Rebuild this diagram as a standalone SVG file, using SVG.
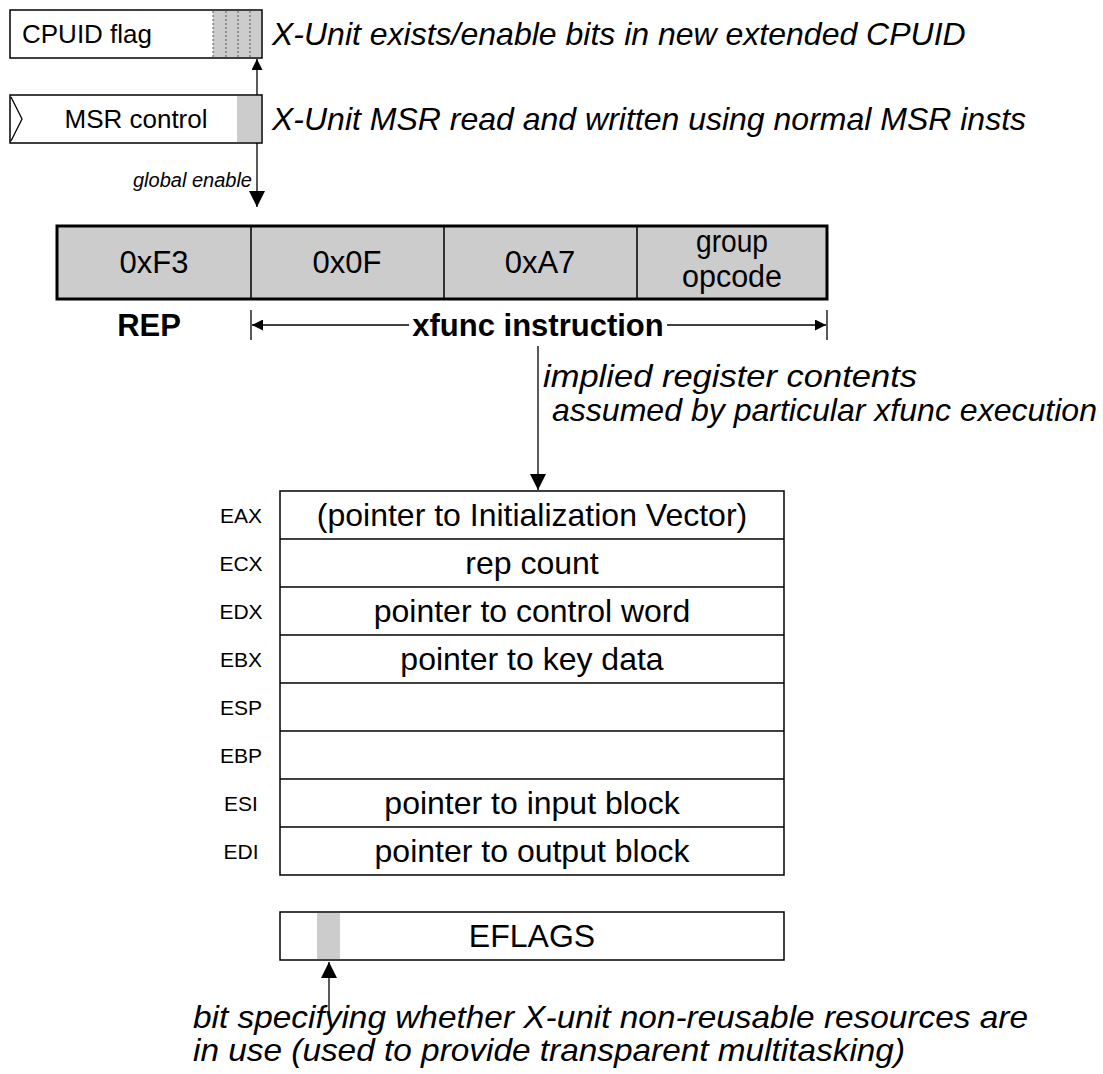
<svg xmlns="http://www.w3.org/2000/svg" width="1103" height="1074" viewBox="0 0 1103 1074">
  <style>
    text { font-family: "Liberation Sans", Arial, sans-serif; fill: #000; }
    .box { fill: #fff; stroke: #000; stroke-width: 1.5; }
    .shade { fill: #cccccc; stroke: none; }
    .op { fill: #cccccc; stroke: #000; stroke-width: 3; }
    .div { stroke: #000; stroke-width: 1.5; }
    .line { stroke: #000; stroke-width: 1.3; fill: none; }
    .note { font-style: italic; font-size: 32px; }
    .reg { font-size: 21px; text-anchor: middle; }
    .cell { font-size: 32px; text-anchor: middle; }
    .hex { font-size: 31px; text-anchor: middle; }
  </style>
  <defs>
    <marker id="arr" viewBox="0 0 10 10" refX="10" refY="5" markerWidth="11" markerHeight="11" markerUnits="userSpaceOnUse" orient="auto">
      <path d="M0,0 L10,5 L0,10 z" fill="#000"/>
    </marker>
    <marker id="arrBig" viewBox="0 0 10 10" refX="10" refY="5" markerWidth="16" markerHeight="16" markerUnits="userSpaceOnUse" orient="auto">
      <path d="M0,0 L10,5 L0,10 z" fill="#000"/>
    </marker>
  </defs>

  <!-- CPUID flag register -->
  <g id="cpuid">
    <rect class="box" x="10" y="10" width="252" height="48"/>
    <rect class="shade" x="213" y="11" width="48" height="46"/>
    <line x1="213" y1="11" x2="213" y2="57" stroke="#555" stroke-width="1" stroke-dasharray="2,2"/>
    <line x1="226" y1="11" x2="226" y2="57" stroke="#555" stroke-width="1" stroke-dasharray="2,2"/>
    <line x1="238" y1="11" x2="238" y2="57" stroke="#555" stroke-width="1" stroke-dasharray="2,2"/>
    <line x1="250" y1="11" x2="250" y2="57" stroke="#555" stroke-width="1" stroke-dasharray="2,2"/>
    <text x="22" y="43" font-size="26">CPUID flag</text>
    <text class="note" x="272" y="45">X-Unit exists/enable bits in new extended CPUID</text>
  </g>

  <!-- MSR control register -->
  <g id="msr">
    <rect class="box" x="10" y="95" width="252" height="48"/>
    <rect class="shade" x="237" y="96" width="24" height="46"/>
    <polyline class="line" points="11,97 22,119 11,141"/>
    <text x="136" y="128" font-size="26" text-anchor="middle">MSR control</text>
    <text class="note" x="272" y="130">X-Unit MSR read and written using normal MSR insts</text>
  </g>

  <!-- Instruction encoding -->
  <g id="opcode">
    <rect class="op" x="57" y="226" width="770" height="73"/>
    <line class="div" x1="251" y1="226" x2="251" y2="299"/>
    <line class="div" x1="444" y1="226" x2="444" y2="299"/>
    <line class="div" x1="637" y1="226" x2="637" y2="299"/>
    <text class="hex" x="154" y="273">0xF3</text>
    <text class="hex" x="347" y="273">0x0F</text>
    <text class="hex" x="540" y="273">0xA7</text>
    <text class="hex" x="732" y="252" font-size="28" textLength="72" lengthAdjust="spacingAndGlyphs">group</text>
    <text class="hex" x="732" y="287" font-size="28" textLength="100" lengthAdjust="spacingAndGlyphs">opcode</text>
    <text x="149" y="336" font-size="31" font-weight="bold" text-anchor="middle">REP</text>
    <text x="538" y="336" font-size="31" font-weight="bold" text-anchor="middle">xfunc instruction</text>
  </g>

  <!-- General-purpose registers -->
  <g id="registers">
    <rect class="box" x="280" y="491" width="504" height="384"/>
    <line class="div" x1="280" y1="539" x2="784" y2="539"/>
    <line class="div" x1="280" y1="587" x2="784" y2="587"/>
    <line class="div" x1="280" y1="635" x2="784" y2="635"/>
    <line class="div" x1="280" y1="683" x2="784" y2="683"/>
    <line class="div" x1="280" y1="731" x2="784" y2="731"/>
    <line class="div" x1="280" y1="779" x2="784" y2="779"/>
    <line class="div" x1="280" y1="827" x2="784" y2="827"/>
    <text class="reg" x="241" y="523">EAX</text>
    <text class="reg" x="241" y="571">ECX</text>
    <text class="reg" x="241" y="619">EDX</text>
    <text class="reg" x="241" y="667">EBX</text>
    <text class="reg" x="241" y="715">ESP</text>
    <text class="reg" x="241" y="763">EBP</text>
    <text class="reg" x="241" y="811">ESI</text>
    <text class="reg" x="241" y="859">EDI</text>
    <text class="cell" x="532" y="526">(pointer to Initialization Vector)</text>
    <text class="cell" x="532" y="574">rep count</text>
    <text class="cell" x="532" y="622">pointer to control word</text>
    <text class="cell" x="532" y="670">pointer to key data</text>
    <text class="cell" x="532" y="814">pointer to input block</text>
    <text class="cell" x="532" y="862">pointer to output block</text>
  </g>

  <!-- Flags register -->
  <g id="eflags">
    <rect class="box" x="280" y="912" width="504" height="48"/>
    <rect class="shade" x="317" y="913" width="23" height="46"/>
    <text class="cell" x="532" y="947">EFLAGS</text>
  </g>

  <!-- Annotations -->
  <g id="labels">
    <text x="252" y="187" font-size="20" font-style="italic" text-anchor="end">global enable</text>
    <text class="note" x="543" y="387" font-size="28" textLength="374" lengthAdjust="spacingAndGlyphs">implied register contents</text>
    <text class="note" x="552" y="421" font-size="28" textLength="545" lengthAdjust="spacingAndGlyphs">assumed by particular xfunc execution</text>
    <text class="note" x="193" y="1028" font-size="30" textLength="835" lengthAdjust="spacingAndGlyphs">bit specifying whether X-unit non-reusable resources are</text>
    <text class="note" x="193" y="1061" font-size="30" textLength="712" lengthAdjust="spacingAndGlyphs">in use (used to provide transparent multitasking)</text>
  </g>

  <!-- Connectors -->
  <g id="connectors">
    <line class="line" x1="257" y1="95" x2="257" y2="59" marker-end="url(#arr)"/>
    <line class="line" x1="257" y1="143" x2="257" y2="207" marker-end="url(#arrBig)"/>
    <line class="line" x1="251" y1="310" x2="251" y2="340"/>
    <line class="line" x1="827" y1="310" x2="827" y2="340"/>
    <line class="line" x1="409" y1="325" x2="252" y2="325" marker-end="url(#arr)"/>
    <line class="line" x1="667" y1="325" x2="826" y2="325" marker-end="url(#arr)"/>
    <line class="line" x1="538" y1="346" x2="538" y2="490" marker-end="url(#arrBig)"/>
    <line class="line" x1="329" y1="1013" x2="329" y2="962" marker-end="url(#arrBig)"/>
  </g>
</svg>
